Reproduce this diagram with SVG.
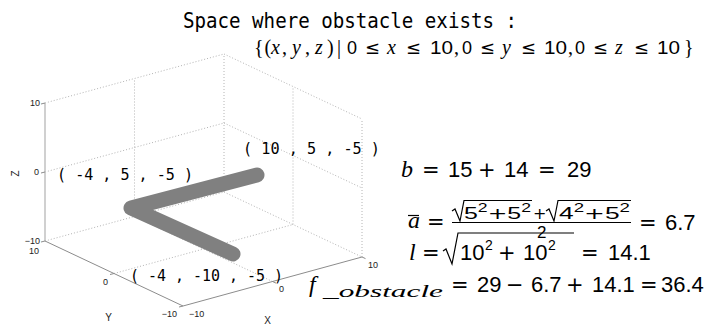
<svg xmlns="http://www.w3.org/2000/svg" width="706" height="334" viewBox="0 0 706 334">
<style>
.grid{stroke:#b4b4b4;stroke-width:1;stroke-dasharray:1 2;fill:none}
.axis{stroke:#8c8c8c;stroke-width:1;fill:none}
.zaxis{stroke:#c0c0c0;stroke-width:1.5;fill:none}
.tick{font-family:"Liberation Sans",Arial,sans-serif;font-size:9px;fill:#222}
.alab{font-family:"Liberation Sans",Arial,sans-serif;font-size:10px;fill:#222}
.title{font-family:"DejaVu Sans Mono",monospace;font-size:21px;fill:#000}
.coord{font-family:"DejaVu Sans Mono",monospace;font-size:16px;fill:#000}
.m{font-family:"Liberation Sans",Arial,sans-serif;font-size:22px;fill:#000}
.ms{font-family:"Liberation Sans",Arial,sans-serif;font-size:17px;fill:#000}
.sup{font-family:"Liberation Sans",Arial,sans-serif;font-size:14px;fill:#000}
.sups{font-family:"Liberation Sans",Arial,sans-serif;font-size:12px;fill:#000}
.op{font-family:"DejaVu Sans",sans-serif;font-size:21px;fill:#000}
.ops{font-family:"DejaVu Sans",sans-serif;font-size:16px;fill:#000}
.v{font-family:"Liberation Serif","Times New Roman",serif;font-style:italic;font-size:24px;fill:#000}
.vs{font-family:"Liberation Serif","Times New Roman",serif;font-style:italic;font-size:17px;fill:#000}
.set{font-family:"Liberation Serif","Times New Roman",serif;font-size:20px;fill:#000}
.seti{font-family:"Liberation Serif","Times New Roman",serif;font-style:italic;font-size:20px;fill:#000}
.setd{font-family:"Liberation Sans",Arial,sans-serif;font-size:18px;fill:#000}
.seto{font-family:"DejaVu Sans",sans-serif;font-size:18px;fill:#000}
.rule{stroke:#000;stroke-width:1.2;fill:none}
</style>
<rect width="706" height="334" fill="#fff"/>

<g id="plot-grid">
  <line class="grid" x1="45" y1="103" x2="224" y2="54"/>
  <line class="grid" x1="45" y1="172" x2="224" y2="123"/>
  <line class="grid" x1="45" y1="241" x2="224" y2="192"/>
  <line class="grid" x1="134.5" y1="216.5" x2="134.5" y2="78.5"/>
  <line class="grid" x1="224" y1="192" x2="224" y2="54"/>
  <line class="grid" x1="224" y1="54" x2="362" y2="119"/>
  <line class="grid" x1="224" y1="123" x2="362" y2="188"/>
  <line class="grid" x1="224" y1="192" x2="362" y2="257"/>
  <line class="grid" x1="293" y1="224.5" x2="293" y2="86.5"/>
  <line class="grid" x1="362" y1="257" x2="362" y2="119"/>
  <line class="grid" x1="272.5" y1="281.5" x2="134.5" y2="216.5"/>
  <line class="grid" x1="114" y1="273.5" x2="293" y2="224.5"/>
</g>

<g id="plot-axes">
  <line class="zaxis" x1="45" y1="103" x2="45" y2="241"/>
  <line class="axis" x1="45" y1="241" x2="183" y2="306"/>
  <line class="axis" x1="183" y1="306" x2="362" y2="257"/>
  <path class="axis" d="M45 103 l-4 1 M45 172 l-4 1 M45 241 l-4 1 M114 273.5 l-4 1 M183 306 l-4 1 M272.5 281.5 l3.5 1.6 M362 257 l3.5 1.6"/>
  <text class="tick" x="40" y="106" text-anchor="end">10</text>
  <text class="tick" x="39" y="175" text-anchor="end">0</text>
  <text class="tick" x="40" y="244" text-anchor="end">−10</text>
  <text class="tick" x="39" y="253.5" text-anchor="end">10</text>
  <text class="tick" x="108" y="284.5" text-anchor="end">0</text>
  <text class="tick" x="177" y="316.5" text-anchor="end">−10</text>
  <text class="tick" x="189" y="317">−10</text>
  <text class="tick" x="279" y="292">0</text>
  <text class="tick" x="368" y="268">10</text>
  <text class="alab" x="108.5" y="320.5" text-anchor="middle">Y</text>
  <text class="alab" x="267.5" y="323.5" text-anchor="middle">X</text>
  <text class="alab" x="0" y="0" text-anchor="middle" transform="translate(18.5 173.5) rotate(-90)">Z</text>
</g>

<g id="obstacle-path">
  <path d="M257 175 L131 208 L233 254" fill="none" stroke="#808080" stroke-width="15" stroke-linecap="round" stroke-linejoin="round"/>
</g>

<g id="coord-labels">
  <text class="coord" x="243" y="154" textLength="137" lengthAdjust="spacingAndGlyphs">( 10 , 5 , -5 )</text>
  <text class="coord" x="57" y="180" textLength="136" lengthAdjust="spacingAndGlyphs">( -4 , 5 , -5 )</text>
  <text class="coord" x="130" y="281" textLength="153" lengthAdjust="spacingAndGlyphs">( -4 , -10 , -5 )</text>
</g>

<g id="title">
  <text class="title" x="183" y="28" textLength="334" lengthAdjust="spacingAndGlyphs">Space where obstacle exists :</text>
</g>

<g id="set-formula">
  <text class="set" x="254" y="54">{</text>
  <text class="set" x="264.5" y="54">(</text>
  <text class="seti" x="271" y="54">x</text>
  <text class="set" x="282" y="54">,</text>
  <text class="seti" x="292" y="54">y</text>
  <text class="set" x="305" y="54">,</text>
  <text class="seti" x="315" y="54">z</text>
  <text class="set" x="327" y="54">)</text>
  <text class="set" x="337" y="54">|</text>
  <text class="setd" x="347" y="54">0</text>
  <text class="seto" x="365" y="54">≤</text>
  <text class="seti" x="387" y="54">x</text>
  <text class="seto" x="406" y="54">≤</text>
  <text class="setd" x="430" y="54" textLength="23" lengthAdjust="spacingAndGlyphs">10</text>
  <text class="set" x="454" y="54">,</text>
  <text class="setd" x="462" y="54">0</text>
  <text class="seto" x="480" y="54">≤</text>
  <text class="seti" x="502" y="54">y</text>
  <text class="seto" x="521" y="54">≤</text>
  <text class="setd" x="544" y="54" textLength="23" lengthAdjust="spacingAndGlyphs">10</text>
  <text class="set" x="568" y="54">,</text>
  <text class="setd" x="575" y="54">0</text>
  <text class="seto" x="593" y="54">≤</text>
  <text class="seti" x="615" y="54">z</text>
  <text class="seto" x="634" y="54">≤</text>
  <text class="setd" x="657" y="54" textLength="23" lengthAdjust="spacingAndGlyphs">10</text>
  <text class="set" x="684" y="54">}</text>
</g>

<g id="eq-b">
  <text class="v" x="401" y="177">b</text>
  <text class="op" x="422" y="177">=</text>
  <text class="m" x="448" y="177">15</text>
  <text class="op" x="478" y="177">+</text>
  <text class="m" x="504" y="177">14</text>
  <text class="op" x="538" y="177">=</text>
  <text class="m" x="567" y="177">29</text>
</g>

<g id="eq-a">
  <text class="v" x="408" y="228">a</text>
  <line class="rule" x1="408" y1="215.5" x2="419" y2="215.5"/>
  <text class="op" x="427" y="229">=</text>
  <path class="rule" d="M452 211 L455 209 L460 221 L464 200.5 L532 200.5"/>
  <text x="464" y="219" textLength="67" lengthAdjust="spacingAndGlyphs"><tspan class="ms">5</tspan><tspan class="sups" dy="-7">2</tspan><tspan class="ops" dy="7">+</tspan><tspan class="ms">5</tspan><tspan class="sups" dy="-7">2</tspan></text>
  <text class="ops" x="533" y="218.5" font-size="15">+</text>
  <path class="rule" d="M546 211 L549 209 L554 221 L558 200.5 L631 200.5"/>
  <text x="559" y="219" textLength="71" lengthAdjust="spacingAndGlyphs"><tspan class="ms">4</tspan><tspan class="sups" dy="-7">2</tspan><tspan class="ops" dy="7">+</tspan><tspan class="ms">5</tspan><tspan class="sups" dy="-7">2</tspan></text>
  <line class="rule" x1="452" y1="222.5" x2="631" y2="222.5"/>
  <text class="ms" x="537" y="237.5" font-size="15">2</text>
  <text class="op" x="639" y="230">=</text>
  <text class="m" x="665" y="230">6.7</text>
</g>

<g id="eq-l">
  <text class="v" x="409" y="260">l</text>
  <text class="op" x="422" y="260">=</text>
  <path class="rule" d="M443 251 L446 249 L452 264 L458 233 L574 233"/>
  <text class="m" x="460" y="260">10</text>
  <text class="sup" x="485" y="250">2</text>
  <text class="op" x="498" y="260">+</text>
  <text class="m" x="523" y="260">10</text>
  <text class="sup" x="548" y="250">2</text>
  <text class="op" x="581" y="260">=</text>
  <text class="m" x="608" y="260">14.1</text>
</g>

<g id="eq-f">
  <text class="v" x="309" y="292" font-size="27">f</text>
  <text class="vs" x="323" y="297" textLength="120" lengthAdjust="spacingAndGlyphs">_obstacle</text>
  <text class="op" x="451" y="292">=</text>
  <text class="m" x="477" y="292">29</text>
  <text class="op" x="506" y="292">−</text>
  <text class="m" x="531" y="292">6.7</text>
  <text class="op" x="566" y="292">+</text>
  <text class="m" x="592" y="292">14.1</text>
  <text class="op" x="640" y="292">=</text>
  <text class="m" x="661" y="292">36.4</text>
</g>
</svg>
